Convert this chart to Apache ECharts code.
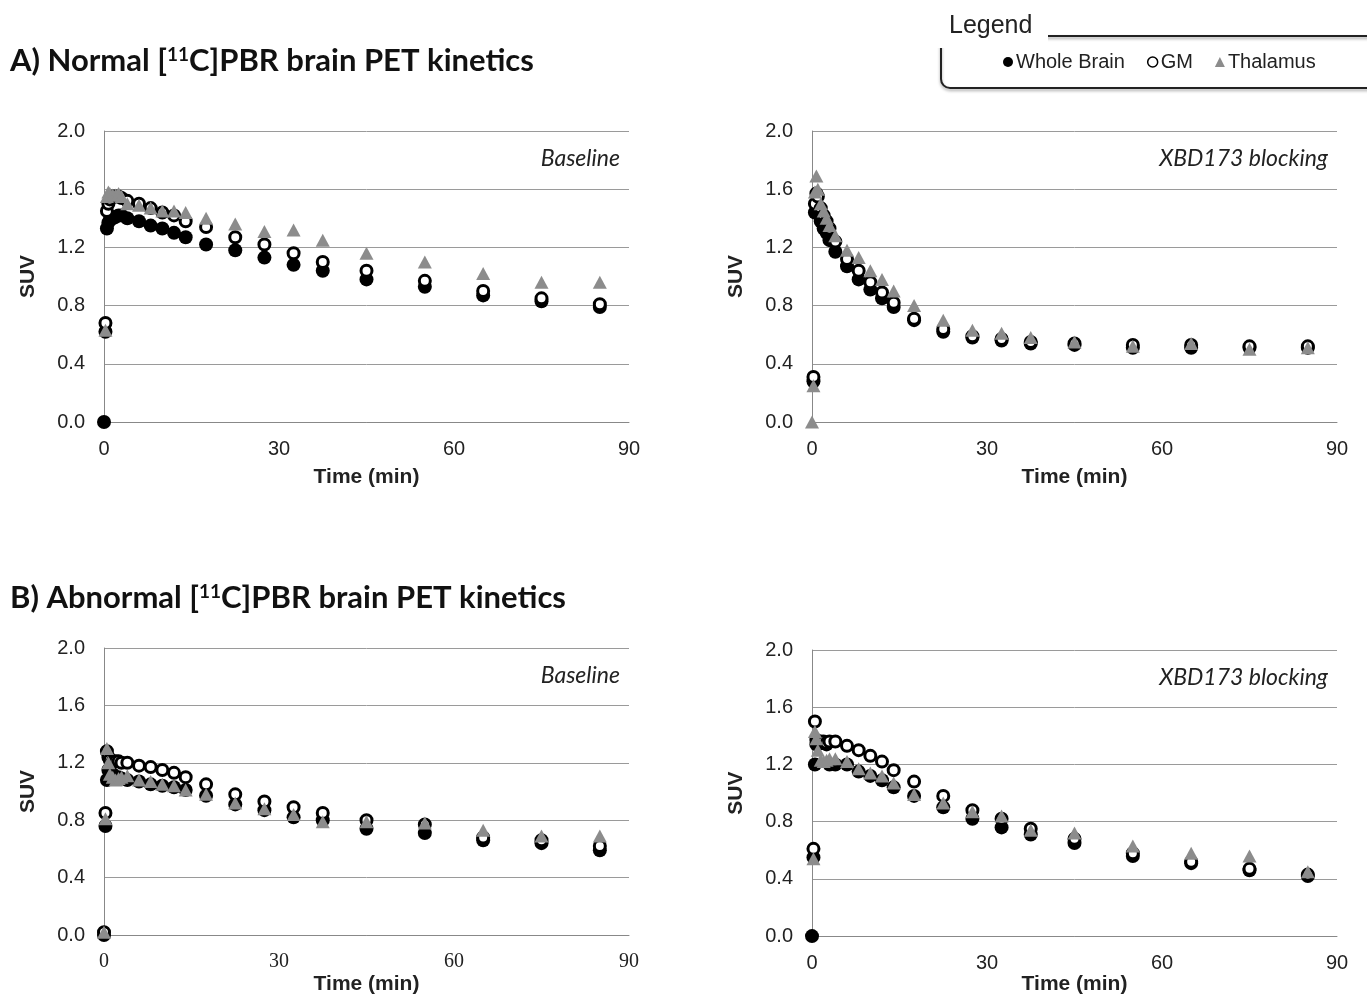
<!DOCTYPE html>
<html>
<head>
<meta charset="utf-8">
<script src="https://cdn.jsdelivr.net/npm/echarts@6/dist/echarts.min.js"></script>
<style>
  html, body { margin: 0; padding: 0; background: #fff; }
  #main { width: 1367px; height: 996px; }
</style>
</head>
<body>
<div id="main"></div>
<script>
// frame mid-times (min)
var times = [0, 0.25, 0.5, 0.75, 1, 1.5, 2, 2.5, 3, 4, 6, 8, 10, 12, 14, 17.5, 22.5, 27.5, 32.5, 37.5, 45, 55, 65, 75, 85];

var seriesNames = ['Whole Brain', 'GM', 'Thalamus'];
var xTicks = [0, 30, 60, 90];
var yTicks = [0, 0.4, 0.8, 1.2, 1.6, 2.0];

// A) normal, baseline
var normBaseWB   = [0.0, 0.62, 1.33, 1.37, 1.39, 1.40, 1.41, 1.42, 1.42, 1.40, 1.38, 1.35, 1.33, 1.30, 1.27, 1.22, 1.18, 1.13, 1.08, 1.04, 0.98, 0.93, 0.87, 0.83, 0.79];
var normBaseGM   = [null, 0.68, 1.45, 1.50, 1.53, 1.55, 1.55, 1.55, 1.54, 1.52, 1.50, 1.47, 1.44, 1.42, 1.38, 1.34, 1.27, 1.22, 1.16, 1.10, 1.04, 0.97, 0.90, 0.85, 0.81];
var normBaseThal = [null, 0.63, 1.55, 1.58, 1.57, 1.56, 1.56, 1.57, 1.55, 1.50, 1.49, 1.47, 1.45, 1.45, 1.44, 1.40, 1.36, 1.31, 1.32, 1.25, 1.16, 1.10, 1.02, 0.96, 0.96];
// A) normal, XBD173 blocking
var normBlockWB   = [null, 0.28, 1.44, 1.50, 1.46, 1.38, 1.33, 1.30, 1.25, 1.17, 1.07, 0.98, 0.91, 0.85, 0.79, 0.70, 0.62, 0.58, 0.56, 0.54, 0.53, 0.51, 0.51, 0.51, 0.51];
var normBlockGM   = [null, 0.31, 1.50, 1.57, 1.55, 1.47, 1.42, 1.38, 1.33, 1.24, 1.12, 1.04, 0.96, 0.89, 0.82, 0.71, 0.64, 0.59, 0.57, 0.55, 0.54, 0.53, 0.53, 0.52, 0.52];
var normBlockThal = [0.0, 0.25, 1.58, 1.69, 1.60, 1.50, 1.45, 1.40, 1.35, 1.28, 1.18, 1.13, 1.04, 0.98, 0.90, 0.80, 0.70, 0.63, 0.61, 0.58, 0.55, 0.52, 0.54, 0.50, 0.51];
// B) abnormal, baseline
var abnBaseWB   = [0.0, 0.76, 1.08, 1.15, 1.14, 1.12, 1.10, 1.10, 1.09, 1.08, 1.07, 1.05, 1.04, 1.03, 1.01, 0.97, 0.91, 0.87, 0.82, 0.80, 0.74, 0.71, 0.66, 0.64, 0.59];
var abnBaseGM   = [0.02, 0.85, 1.28, 1.24, 1.22, 1.21, 1.21, 1.21, 1.20, 1.20, 1.18, 1.17, 1.15, 1.13, 1.10, 1.05, 0.98, 0.93, 0.89, 0.85, 0.80, 0.77, 0.68, 0.66, 0.62];
var abnBaseThal = [0.02, 0.81, 1.30, 1.20, 1.12, 1.10, 1.08, 1.09, 1.10, 1.11, 1.08, 1.07, 1.05, 1.04, 1.01, 0.98, 0.92, 0.88, 0.84, 0.79, 0.79, 0.78, 0.73, 0.69, 0.69];
// B) abnormal, XBD173 blocking
var abnBlockWB   = [0.0, 0.55, 1.20, 1.34, 1.35, 1.35, 1.35, 1.34, 1.20, 1.20, 1.20, 1.15, 1.12, 1.09, 1.04, 0.98, 0.90, 0.82, 0.76, 0.71, 0.65, 0.56, 0.51, 0.46, 0.42];
var abnBlockGM   = [null, 0.61, 1.50, 1.37, 1.36, 1.36, 1.36, 1.35, 1.36, 1.36, 1.33, 1.30, 1.26, 1.22, 1.16, 1.08, 0.98, 0.88, 0.82, 0.75, 0.68, 0.58, 0.52, 0.47, 0.43];
var abnBlockThal = [null, 0.54, 1.43, 1.38, 1.30, 1.23, 1.22, 1.23, 1.24, 1.24, 1.22, 1.17, 1.14, 1.12, 1.07, 0.99, 0.93, 0.87, 0.84, 0.74, 0.72, 0.63, 0.58, 0.56, 0.45];

var chart = echarts.init(document.getElementById('main'));

function pairs(vals) {
  var out = [];
  for (var i = 0; i < times.length; i++) {
    if (vals[i] != null) out.push([times[i], vals[i]]);
  }
  return out;
}

// grid boxes (px)
var panels = [
  { left: 104, top: 131, height: 291, note: 'Baseline', data: [normBaseWB, normBaseGM, normBaseThal], nameGap: 45, serifX: false },
  { left: 812, top: 131, height: 291, note: 'XBD173 blocking', data: [normBlockWB, normBlockGM, normBlockThal], nameGap: 45, serifX: false },
  { left: 104, top: 648, height: 289, note: 'Baseline', data: [abnBaseWB, abnBaseGM, abnBaseThal], nameGap: 39, serifX: true },
  { left: 812, top: 650, height: 290, note: 'XBD173 blocking', data: [abnBlockWB, abnBlockGM, abnBlockThal], nameGap: 35, serifX: false }
];

var grids = [], xAxes = [], yAxes = [], series = [], graphics = [];
var gray = '#8c8c8c';
var W = 1367;

panels.forEach(function (p, i) {
  grids.push({ left: p.left, top: p.top, width: 525, height: p.height, containLabel: false });
  xAxes.push({
    gridIndex: i, type: 'value', min: 0, max: 90, interval: 30,
    name: 'Time (min)', nameLocation: 'middle', nameGap: p.nameGap,
    nameTextStyle: { fontFamily: 'Liberation Sans', fontWeight: 'bold', fontSize: 21, color: '#222' },
    axisLine: { show: true, lineStyle: { color: '#888', width: 1 } },
    axisTick: { show: false },
    splitLine: { show: false },
    axisLabel: { margin: 17, fontSize: 20, color: '#222', fontFamily: p.serifX ? 'Liberation Serif' : 'Liberation Sans' }
  });
  yAxes.push({
    gridIndex: i, type: 'value', min: 0, max: 2, interval: 0.4,
    name: 'SUV', nameLocation: 'middle', nameGap: 65,
    nameTextStyle: { fontFamily: 'Liberation Sans', fontWeight: 'bold', fontSize: 21, color: '#222' },
    axisLine: { show: true, lineStyle: { color: '#888', width: 1 } },
    axisTick: { show: false },
    splitLine: { show: true, lineStyle: { color: '#9a9a9a', width: 1 } },
    axisLabel: { margin: 19, fontSize: 20, color: '#222', fontFamily: 'Liberation Sans',
      formatter: function (v) { return v.toFixed(1); } }
  });
  series.push({
    name: seriesNames[0], type: 'scatter', xAxisIndex: i, yAxisIndex: i,
    symbol: 'circle', symbolSize: 14, itemStyle: { color: '#000', opacity: 1 },
    data: pairs(p.data[0])
  });
  series.push({
    name: seriesNames[1], type: 'scatter', xAxisIndex: i, yAxisIndex: i,
    symbol: 'circle', symbolSize: 11,
    itemStyle: { color: '#fff', borderColor: '#000', borderWidth: 3, opacity: 1 },
    data: pairs(p.data[1])
  });
  series.push({
    name: seriesNames[2], type: 'scatter', xAxisIndex: i, yAxisIndex: i,
    symbol: 'triangle', symbolSize: [14, 13], itemStyle: { color: gray, opacity: 1 },
    data: pairs(p.data[2])
  });
  graphics.push({
    type: 'text', right: W - (p.left + 525 - 9), top: p.top + 16,
    style: { text: p.note, font: 'italic 23px Lato', fill: '#222' }
  });
});

// legend frame
graphics.push({
  type: 'rect', shape: { x: 941, y: 36, width: 460, height: 52, r: 9 },
  style: { fill: 'none', stroke: '#222', lineWidth: 2, shadowBlur: 3, shadowOffsetY: 2, shadowColor: 'rgba(0,0,0,0.35)' }
});
graphics.push({
  type: 'rect', shape: { x: 930, y: 8, width: 118, height: 40 }, style: { fill: '#fff' }
});
graphics.push({
  type: 'text', left: 949, top: 14,
  style: { text: 'Legend', font: '25px "Liberation Sans"', fill: '#222' }
});

var titleRich = {
  b: { fontFamily: 'Lato', fontWeight: 'bold', fontSize: 31, color: '#111' },
  s: { fontFamily: 'Lato', fontWeight: 'bold', fontSize: 19, color: '#111', verticalAlign: 'top' }
};

chart.setOption({
  animation: false,
  backgroundColor: '#fff',
  title: [
    { text: '{b|A) Normal [}{s|11}{b|C]PBR brain PET kinetics}', left: 5, top: 40, textStyle: { rich: titleRich } },
    { text: '{b|B) Abnormal [}{s|11}{b|C]PBR brain PET kinetics}', left: 5, top: 577, textStyle: { rich: titleRich } }
  ],
  legend: {
    data: [
      { name: 'Whole Brain', icon: 'circle', itemStyle: { color: '#000', borderWidth: 0 } },
      { name: 'GM', icon: 'circle', itemStyle: { color: '#fff', borderColor: '#000', borderWidth: 1.5 } },
      { name: 'Thalamus', icon: 'triangle', itemStyle: { color: gray, borderWidth: 0 } }
    ],
    left: 998, top: 47, itemWidth: 10, itemHeight: 10, itemGap: 22,
    textStyle: { fontFamily: 'Liberation Sans', fontSize: 20, color: '#222', padding: [0, 0, 0, -2] }
  },
  grid: grids,
  xAxis: xAxes,
  yAxis: yAxes,
  series: series,
  graphic: graphics
});
</script>
</body>
</html>
